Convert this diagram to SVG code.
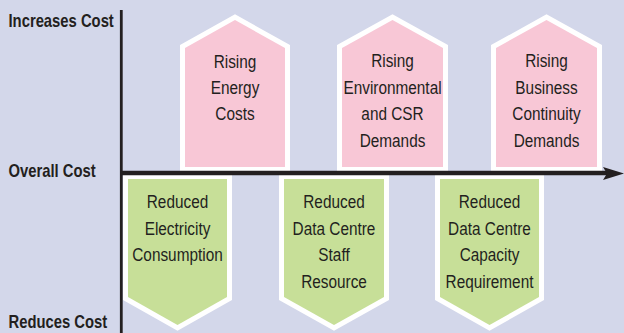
<svg xmlns="http://www.w3.org/2000/svg" width="624" height="333" viewBox="0 0 624 333">
  <defs>
    <style>
      .bg { fill: #d3d7ea; }
      .up { fill: #f8c7d6; stroke: #ffffff; stroke-width: 10; stroke-linejoin: miter; stroke-miterlimit: 10; paint-order: stroke; }
      .down { fill: #c7df98; stroke: #ffffff; stroke-width: 10; stroke-linejoin: miter; stroke-miterlimit: 10; paint-order: stroke; }
      .lbl { font-family: "Liberation Sans", Arial, sans-serif; font-size: 18.5px; fill: #231f20; text-anchor: middle; }
      .axis-lbl { font-family: "Liberation Sans", Arial, sans-serif; font-size: 18.5px; font-weight: bold; fill: #231f20; }
      .axis { stroke: #231f20; fill: none; }
    </style>
  </defs>

  <rect class="bg" x="0" y="0" width="624" height="333"/>

  <!-- cost drivers that push upward -->
  <g id="rising-energy">
    <polygon class="up" points="185,167 185,48 235,20 285,48 285,167"/>
    <g transform="translate(235 0) scale(0.83 1)">
      <text class="lbl" x="0" y="68">Rising</text>
      <text class="lbl" x="0" y="94">Energy</text>
      <text class="lbl" x="0" y="120">Costs</text>
    </g>
  </g>
  <g id="rising-environmental">
    <polygon class="up" points="342,167 342,48 392.5,20 443,48 443,167"/>
    <g transform="translate(392.5 0) scale(0.83 1)">
      <text class="lbl" x="0" y="67">Rising</text>
      <text class="lbl" x="0" y="94">Environmental</text>
      <text class="lbl" x="0" y="120">and CSR</text>
      <text class="lbl" x="0" y="147">Demands</text>
    </g>
  </g>
  <g id="rising-continuity">
    <polygon class="up" points="496,167 496,48 546.5,20 597,48 597,167"/>
    <g transform="translate(546.5 0) scale(0.83 1)">
      <text class="lbl" x="0" y="67">Rising</text>
      <text class="lbl" x="0" y="94">Business</text>
      <text class="lbl" x="0" y="120">Continuity</text>
      <text class="lbl" x="0" y="147">Demands</text>
    </g>
  </g>

  <!-- savings that pull downward -->
  <g id="reduced-electricity">
    <polygon class="down" points="128,179 227,179 227,297 177.5,325 128,297"/>
    <g transform="translate(177.5 0) scale(0.83 1)">
      <text class="lbl" x="0" y="208">Reduced</text>
      <text class="lbl" x="0" y="235">Electricity</text>
      <text class="lbl" x="0" y="261">Consumption</text>
    </g>
  </g>
  <g id="reduced-staff">
    <polygon class="down" points="284,179 384,179 384,297 334,325 284,297"/>
    <g transform="translate(334 0) scale(0.83 1)">
      <text class="lbl" x="0" y="208">Reduced</text>
      <text class="lbl" x="0" y="235">Data Centre</text>
      <text class="lbl" x="0" y="261">Staff</text>
      <text class="lbl" x="0" y="288">Resource</text>
    </g>
  </g>
  <g id="reduced-capacity">
    <polygon class="down" points="440,179 539,179 539,297 489.5,325 440,297"/>
    <g transform="translate(489.5 0) scale(0.83 1)">
      <text class="lbl" x="0" y="208">Reduced</text>
      <text class="lbl" x="0" y="235">Data Centre</text>
      <text class="lbl" x="0" y="261">Capacity</text>
      <text class="lbl" x="0" y="288">Requirement</text>
    </g>
  </g>

  <!-- axes -->
  <g id="connectors">
    <line class="axis" x1="121.3" y1="10" x2="121.3" y2="333" stroke-width="2.8"/>
    <line class="axis" x1="120" y1="173" x2="608" y2="173" stroke-width="4.5"/>
    <polygon fill="#231f20" points="603,167 624,173.5 603,180 607,173.5"/>
  </g>

  <g id="axis-labels" transform="translate(8.5 0) scale(0.8 1)">
    <text class="axis-lbl" x="0" y="27">Increases Cost</text>
    <text class="axis-lbl" x="0" y="177">Overall Cost</text>
    <text class="axis-lbl" x="0" y="328">Reduces Cost</text>
  </g>
</svg>
